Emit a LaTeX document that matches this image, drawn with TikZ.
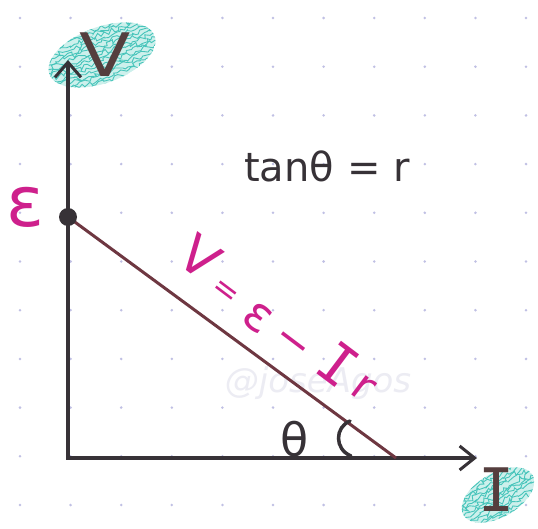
\documentclass[tikz,border=0pt]{standalone}
\usepackage{fontspec}
\setmainfont{DejaVu Sans}
\newfontfamily\monof{DejaVu Sans Mono}
\usetikzlibrary{arrows.meta,decorations.pathmorphing}
\definecolor{mag}{RGB}{206,32,140}
\definecolor{tealD}{RGB}{70,196,186}
\definecolor{tealL}{RGB}{205,240,236}
\definecolor{linec}{RGB}{110,55,65}
\definecolor{axc}{RGB}{55,50,55}
\definecolor{labc}{RGB}{85,62,62}
\definecolor{dotc}{RGB}{192,192,228}
\definecolor{wmc}{RGB}{236,236,243}
\tikzset{
  scrib/.style={draw=tealD, line width=0.9pt, decorate, decoration={random steps, segment length=3pt, amplitude=2.5pt}},
  axisline/.style={draw=axc, line width=3.5pt, line join=miter,
     {Straight Barb[length=15pt,width=26pt,line width=3pt]}-{Straight Barb[length=15pt,width=24pt,line width=3pt]}},
  vline/.style={draw=linec, line width=3pt},
  axlab/.style={text=labc, inner sep=0pt},
  eqch/.style={text=mag, rotate=-37, inner sep=0pt},
  anglemark/.style={draw=axc, line width=3.5pt, line cap=round},
}
\begin{document}
\begin{tikzpicture}[x=1pt,y=-1pt]
\pgfmathsetseed{7}
\fill[white] (0,0) rectangle (538,529);
\useasboundingbox (0,0) rectangle (538,529);
% dot grid
\foreach \i in {0,...,10}{\foreach \j in {0,...,10}{
  \fill[dotc] ({20+50.6*\i},{18+48.7*\j}) circle (1.4pt);}}
% watermark
\node[text=wmc, font=\fontsize{34}{34}\selectfont\itshape] (wm) at (318,383) {@joseAgos};
% teal scribble behind V
\begin{scope}[shift={(102,55)},rotate=20]
  \clip (0,0) ellipse [x radius=56pt, y radius=28pt];
  \fill[tealL] (0,0) ellipse [x radius=56pt, y radius=28pt];
  \foreach \k in {-30,-26.5,...,30} \draw[scrib] (-62,\k) -- (62,\k);
\end{scope}
% teal scribble behind I
\begin{scope}[shift={(498,495)},rotate=30]
  \clip (0,0) ellipse [x radius=40pt, y radius=22pt];
  \fill[tealL] (0,0) ellipse [x radius=40pt, y radius=22pt];
  \foreach \k in {-24,-20.5,...,24} \draw[scrib] (-45,\k) -- (45,\k);
\end{scope}
% axes
\coordinate (O) at (68,458);
\coordinate (Vtip) at (68,60);
\coordinate (Itip) at (477,458);
\draw[axisline] (Vtip) -- (O) -- (Itip);
% axis labels
\node[axlab, xscale=1.25, font=\fontsize{60}{60}\selectfont] (Vlab) at (105,55) {V};
\node[axlab, font=\monof\fontsize{60}{60}\selectfont] (Ilab) at (497,490) {I};
% main line and point
\coordinate (E) at (68,217);
\coordinate (X) at (396,458);
\draw[vline] (E) -- (X);
\node[circle, fill=axc, inner sep=0pt, minimum size=18pt] (Edot) at (E) {};
\node[text=mag, font=\fontsize{70}{70}\selectfont] (epslab) at (25,207) {ε};
% equation along line
\node[eqch, font=\fontsize{52}{52}\selectfont] (e1) at (200,257) {V};
\node[eqch, font=\fontsize{32}{32}\selectfont] (e2) at (225,293) {=};
\node[eqch, font=\fontsize{48}{48}\selectfont] (e3) at (258,318) {ε};
\node[eqch, font=\fontsize{44}{44}\selectfont] (e4) at (290,346) {−};
\node[eqch, font=\monof\fontsize{56}{56}\selectfont] (e5) at (338,364) {I};
\node[eqch, font=\fontsize{44}{44}\selectfont] (e6) at (363,388) {r};
% angle
\node[text=axc, font=\fontsize{46}{46}\selectfont] (th) at (295,439) {θ};
\coordinate (a1) at (350,421);
\coordinate (a2) at (351,456);
\draw[anglemark] (a1) .. controls (335,427) and (334,449) .. (a2);
% tan
\node[text=axc, font=\fontsize{40}{40}\selectfont, anchor=base] (tan) at (327,182) {tanθ = r};
\end{tikzpicture}
\end{document}
